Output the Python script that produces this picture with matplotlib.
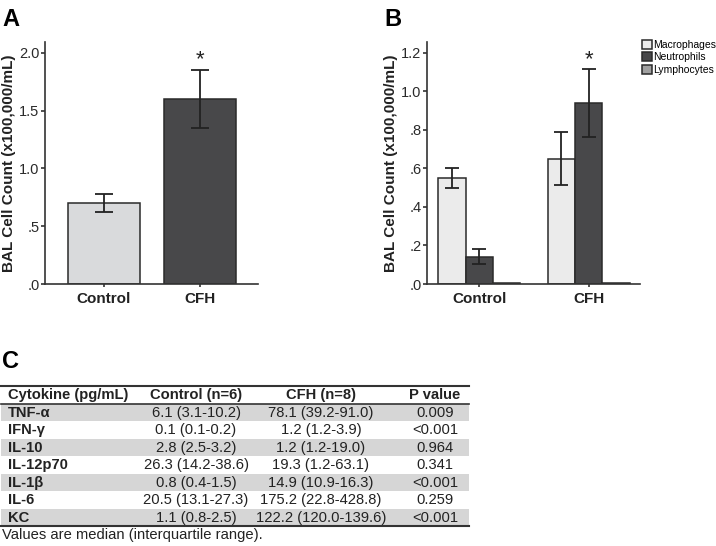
import matplotlib
matplotlib.use('Agg')
import matplotlib.pyplot as plt
from matplotlib.ticker import FuncFormatter
from matplotlib.patches import Rectangle
import numpy as np

plt.rcParams['font.family'] = ['Liberation Sans', 'DejaVu Sans']

# Panel A data
groups = ['Control', 'CFH']
total_mean = [0.70, 1.60]
total_err = [0.08, 0.25]

# Panel B data
cell_types = ['Macrophages', 'Neutrophils', 'Lymphocytes']
cell_mean = {'Macrophages': [0.55, 0.65],
             'Neutrophils': [0.142, 0.94],
             'Lymphocytes': [0.005, 0.005]}
cell_err = {'Macrophages': [0.053, 0.138],
            'Neutrophils': [0.04, 0.177],
            'Lymphocytes': [0.0, 0.0]}

# Panel C table
table_header = ['Cytokine (pg/mL)', 'Control (n=6)', 'CFH (n=8)', 'P value']
cytokines = ['TNF-α', 'IFN-γ', 'IL-10', 'IL-12p70', 'IL-1β', 'IL-6', 'KC']
control_vals = ['6.1 (3.1-10.2)', '0.1 (0.1-0.2)', '2.8 (2.5-3.2)', '26.3 (14.2-38.6)',
                '0.8 (0.4-1.5)', '20.5 (13.1-27.3)', '1.1 (0.8-2.5)']
cfh_vals = ['78.1 (39.2-91.0)', '1.2 (1.2-3.9)', '1.2 (1.2-19.0)', '19.3 (1.2-63.1)',
            '14.9 (10.9-16.3)', '175.2 (22.8-428.8)', '122.2 (120.0-139.6)']
p_vals = ['0.009', '<0.001', '0.964', '0.341', '<0.001', '0.259', '<0.001']
footnote = 'Values are median (interquartile range).'

W, H = 716, 546
fig = plt.figure(figsize=(W / 100, H / 100), dpi=100)

edge = '#2a2a2a'
light_a = '#d9dadc'
light_b = '#ebebeb'
dark = '#48484a'
mid = '#a0a0a0'


def spss_fmt(v, pos):
    s = f'{v:.1f}'
    if s.startswith('0.'):
        s = s[1:]
    return s


def style_axes(ax):
    for side in ['top', 'right']:
        ax.spines[side].set_visible(False)
    for side in ['left', 'bottom']:
        ax.spines[side].set_color('#333333')
        ax.spines[side].set_linewidth(1.2)
    ax.tick_params(axis='both', colors='#333333', width=1.2, length=3)
    ax.tick_params(axis='y', labelsize=10.5, labelcolor='#2a2a2a', pad=1)
    ax.tick_params(axis='x', labelsize=11, labelcolor='#222222', pad=3, length=2.5)
    ax.yaxis.set_major_formatter(FuncFormatter(spss_fmt))
    for lab in ax.get_xticklabels():
        lab.set_fontweight('bold')
    ax.set_ylabel('BAL Cell Count (x100,000/mL)', fontsize=11, fontweight='bold',
                  color='#222222', labelpad=2)


def fx(px):
    return px / W


def fy(py):
    return 1 - py / H


# ---- Panel A
axA = fig.add_axes([fx(45), fy(284), fx(258) - fx(45), fy(42) - fy(284)])
x = np.arange(len(groups))
axA.bar(x, total_mean, width=0.75, color=[light_a, dark], edgecolor=edge, linewidth=1.1, zorder=2)
axA.errorbar(x, total_mean, yerr=total_err, fmt='none', ecolor='#222222', elinewidth=1.3,
             capsize=6.5, capthick=1.3, zorder=3)
axA.text(1, total_mean[1] + total_err[1], '*', ha='center', va='bottom', fontsize=16,
         color='#222222')
axA.set_xlim(-0.61, 1.6)
axA.set_ylim(0, 2.095)
axA.set_yticks([0, 0.5, 1.0, 1.5, 2.0])
axA.set_xticks(x)
axA.set_xticklabels(groups)
style_axes(axA)

# ---- Panel B
axB = fig.add_axes([fx(427), fy(284), fx(640) - fx(427), fy(42) - fy(284)])
colors_b = {'Macrophages': light_b, 'Neutrophils': dark, 'Lymphocytes': mid}
bw = 0.25
for i, ct in enumerate(cell_types):
    xs = x + (i - 1) * bw
    axB.bar(xs, cell_mean[ct], width=bw, color=colors_b[ct], edgecolor=edge, linewidth=1.1,
            label=ct, zorder=2)
    if max(cell_err[ct]) > 0:
        axB.errorbar(xs, cell_mean[ct], yerr=cell_err[ct], fmt='none', ecolor='#222222',
                     elinewidth=1.3, capsize=5, capthick=1.3, zorder=3)
axB.text(1, cell_mean['Neutrophils'][1] + cell_err['Neutrophils'][1] - 0.005, '*',
         ha='center', va='bottom', fontsize=16, color='#222222')
axB.set_xlim(-0.48, 1.47)
axB.set_ylim(0, 1.257)
axB.set_yticks([0, 0.2, 0.4, 0.6, 0.8, 1.0, 1.2])
axB.set_xticks(x)
axB.set_xticklabels(groups)
style_axes(axB)
axB.legend(loc='upper left', bbox_to_anchor=(fx(642), fy(40)), bbox_transform=fig.transFigure,
           frameon=False, fontsize=7.5, handlelength=0.95, handleheight=0.95,
           handletextpad=0.15, labelspacing=0.22, borderpad=0, borderaxespad=0)

# panel letters
fig.text(fx(2), fy(26), 'A', fontsize=17, fontweight='bold', ha='left', va='baseline')
fig.text(fx(384), fy(26), 'B', fontsize=17, fontweight='bold', ha='left', va='baseline')
fig.text(fx(2), fy(368), 'C', fontsize=17, fontweight='bold', ha='left', va='baseline')

# ---- Panel C table
axT = fig.add_axes([0, 0, 1, 1])
axT.set_xlim(0, W)
axT.set_ylim(H, 0)
axT.axis('off')
axT.patch.set_visible(False)

t_left, t_right = 1, 469
top_rule, head_rule = 386, 403.5
row_h = 17.5
col_x = [8, 196, 321, 435]
col_ha = ['left', 'center', 'center', 'center']
txt = '#222222'
fs = 10.6

for j, h in enumerate(table_header):
    axT.text(col_x[j], (top_rule + head_rule) / 2 + 0.5, h, ha=col_ha[j], va='center',
             fontsize=fs, fontweight='bold', color=txt)

for i in range(len(cytokines)):
    y0 = head_rule + i * row_h
    if i % 2 == 0:
        axT.add_patch(Rectangle((t_left, y0 + 0.5), t_right - t_left, row_h - 0.5,
                                facecolor='#d6d6d6', edgecolor='none', zorder=0))
    yc = y0 + row_h / 2 + 0.5
    row = [cytokines[i], control_vals[i], cfh_vals[i], p_vals[i]]
    for j, val in enumerate(row):
        axT.text(col_x[j], yc, val, ha=col_ha[j], va='center', fontsize=fs,
                 fontweight='bold' if j == 0 else 'normal', color=txt, zorder=2)

bottom_rule = head_rule + len(cytokines) * row_h
for yy, lw in [(top_rule, 1.5), (head_rule, 1.2), (bottom_rule, 1.5)]:
    axT.plot([t_left, t_right], [yy, yy], color='#333333', lw=lw, zorder=3)

axT.text(2, bottom_rule + 9.5, footnote, ha='left', va='center', fontsize=fs, color=txt)

fig.savefig('out.png', dpi=100)
